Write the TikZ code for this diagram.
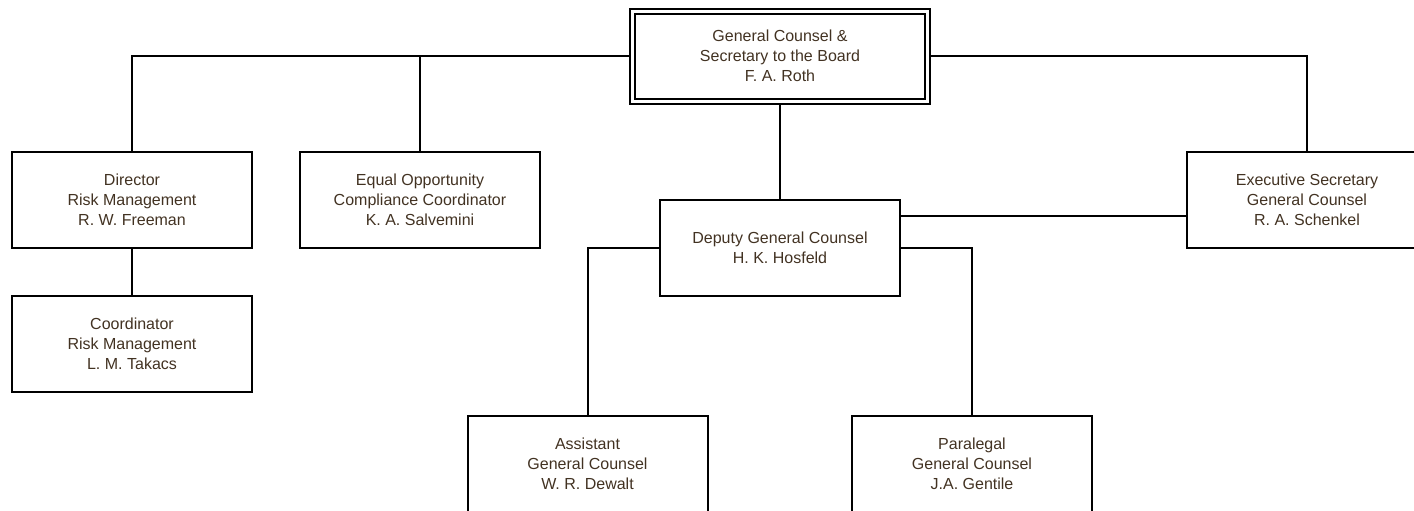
\documentclass[tikz,border=0pt]{standalone}
\usepackage{fontspec}
\setmainfont{Liberation Sans}
\usetikzlibrary{calc}
\definecolor{txtbrown}{RGB}{66,50,34}
\begin{document}
\begin{tikzpicture}[x=0.5pt,y=-0.5pt,
post/.style={draw,line width=1pt,minimum width=120pt,minimum height=48pt,inner sep=0pt,align=center,text=txtbrown,font=\fontsize{8}{10}\selectfont},
link/.style={line width=1pt}]
\path[use as bounding box,clip] (0,0) rectangle (1414,510);
\node[post,double,double distance=1.5pt,outer sep=1.75pt,minimum width=147.5pt,minimum height=45pt] (gc) at (780,56) {General Counsel \&\\Secretary to the Board\\F. A. Roth};
\node[post] (dir) at (132,200) {Director\\Risk Management\\R. W. Freeman};
\node[post] (coord) at (132,344) {Coordinator\\Risk Management\\L. M. Takacs};
\node[post] (eeo) at (420,200) {Equal Opportunity\\Compliance Coordinator\\K. A. Salvemini};
\node[post] (dep) at (780,248) {Deputy General Counsel\\H. K. Hosfeld};
\node[post] (exec) at (1307,200) {Executive Secretary\\General Counsel\\R. A. Schenkel};
\node[post] (asst) at (587.5,464) {Assistant\\General Counsel\\W. R. Dewalt};
\node[post] (para) at (972,464) {Paralegal\\General Counsel\\J.A. Gentile};
\coordinate (depr) at ($(dep.north east)+(0,17)$);
\draw[link] (gc.west) -| (dir.north);
\draw[link] (gc.west) -| (eeo.north);
\draw[link] (gc.east) -| (exec.north);
\draw[link] (gc.south) -- (dep.north);
\draw[link] (dir.south) -- (coord.north);
\draw[link] (depr) -- (exec.west |- depr);
\draw[link] (dep.west) -| (asst.north);
\draw[link] (dep.east) -| (para.north);
\end{tikzpicture}
\end{document}
